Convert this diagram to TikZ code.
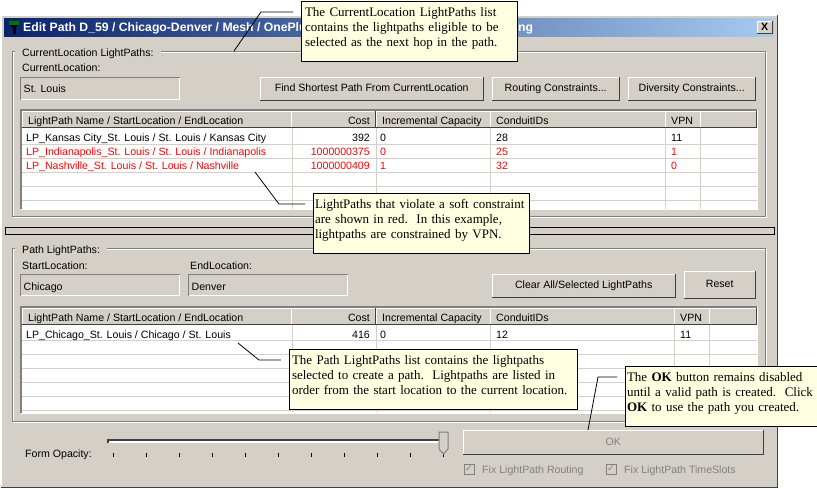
\documentclass[tikz,border=0pt]{standalone}
\usepackage{fontspec}
\setmainfont{Liberation Sans}
\newfontfamily\notefamily{Liberation Serif}
\newfontfamily\checkfamily{DejaVu Sans}
\usetikzlibrary{arrows.meta, positioning, calc}
\definecolor{winface}{HTML}{D4D0C8}
\definecolor{winshadow}{HTML}{808080}
\definecolor{windark}{HTML}{404040}
\definecolor{gridline}{HTML}{D4D0C8}
\definecolor{notefill}{HTML}{FFFFE1}
\definecolor{titledark}{HTML}{0A246A}
\definecolor{titlelight}{HTML}{A6CAF0}
\definecolor{softred}{HTML}{FF0000}
\newcommand{\uifont}{\fontsize{10.6}{13}\selectfont}
\newcommand{\notefont}{\notefamily\fontsize{13}{15}\selectfont}
%% raised and sunken edges round a named node
\newcommand{\raisededge}[1]{
  \draw[white, line width=1pt] (#1.south west) -- (#1.north west) -- (#1.north east);
  \draw[windark, line width=1.5pt] (#1.south west) -- (#1.south east) -- (#1.north east);
}
\newcommand{\sunkenedge}[1]{
  \draw[white, line width=1pt] (#1.south west) -- (#1.south east) -- (#1.north east);
  \draw[winshadow, line width=1.2pt] (#1.south west) -- (#1.north west) -- (#1.north east);
}
\tikzset{
  x=1pt, y=-1pt,
  uitext/.style   = {font=\uifont, inner sep=0pt, anchor=west, text=black, text height=8pt, text depth=2pt},
  redtext/.style  = {uitext, text=softred},
  costtext/.style = {uitext, anchor=east},
  btnbox/.style   = {fill=winface, font=\uifont, inner sep=0pt, anchor=north west, align=center, text height=8pt, text depth=2pt},
  fieldbox/.style = {fill=winface, font=\uifont, inner sep=0pt, anchor=north west},
  listbox/.style  = {fill=white, inner sep=0pt, anchor=north west},
  headbox/.style  = {btnbox, minimum height=16pt},
  groupbox/.style = {inner sep=0pt, anchor=north west},
  notebox/.style  = {draw=black, line width=1pt, fill=notefill, font=\notefont, inner sep=0pt,
                     anchor=north west, align=left, text depth=39pt},
  checkbox/.style = {fill=winface, draw=winshadow, line width=1pt, inner sep=0pt, anchor=north west,
                     minimum size=10pt, font=\checkfamily\fontsize{9}{9}\selectfont, text=winshadow},
  leadline/.style = {draw=black, line width=0.8pt},
  etchdark/.style = {draw=winshadow, line width=1pt},
  etchlight/.style= {draw=white, line width=1pt},
}

\begin{document}
\begin{tikzpicture}

\useasboundingbox (0,0) rectangle (817,488);
\fill[white] (0,0) rectangle (817,488);

%% ---- Window frame ----
\node[fill=winface, inner sep=0pt, anchor=north west, minimum width=776pt, minimum height=472pt] (window) at (1,15) {};
\draw[white, line width=1pt] (window.south west) -- (window.north west) -- (window.north east);
\draw[windark, line width=1.5pt] (window.south west) -- (window.south east) -- (window.north east);

%% ---- Title bar ----
\node[left color=titledark, right color=titlelight, inner sep=0pt, anchor=north west,
      minimum width=770pt, minimum height=18pt] (titlebar) at (4,18) {};
\node[uitext, text=white, font=\fontsize{12.2}{14}\bfseries\selectfont] (titletext) at (23,28) {Edit Path D\_59 / Chicago-Denver / Mesh / OnePlu};
\node[uitext, text=white, font=\fontsize{12.2}{14}\bfseries\selectfont] (titleend) at (518,28) {ng};
\fill[black] (12.5,26) rectangle (15.5,34);
\fill[black] (10,25) -- (18,25) -- (15.5,28) -- (12.5,28) -- cycle;
\fill[green!45!black] (9,21) rectangle (19,25);
\node[btnbox, minimum width=15pt, minimum height=12pt, font=\bfseries\uifont] (closebtn) at (757,21) {X};
\raisededge{closebtn}

%% ---- CurrentLocation group ----
\node[groupbox, minimum width=753pt, minimum height=165pt] (currentgroup) at (12,51) {};
\draw[etchlight] ([shift={(1,1)}]currentgroup.north west) -- ([shift={(1,1)}]currentgroup.south west) -- ([shift={(1,1)}]currentgroup.south east) -- ([shift={(1,1)}]currentgroup.north east) -- cycle;
\draw[etchdark] (currentgroup.north west) rectangle (currentgroup.south east);
\node[uitext, fill=winface, inner xsep=7pt] (currenttitle) at (15,53) {CurrentLocation LightPaths:};
\node[uitext] (currentlabel) at (22,68.5) {CurrentLocation:};
\node[fieldbox, minimum width=159pt, minimum height=22pt] (currentfield) at (20.5,77.5) {};
\sunkenedge{currentfield}
\node[uitext] (currentvalue) at (23.5,89.5) {St. Louis};
\node[btnbox, minimum width=223pt, minimum height=23pt] (shortestbtn) at (260,77) {Find Shortest Path From CurrentLocation};
\node[btnbox, minimum width=127pt, minimum height=23pt] (routingbtn) at (492,77) {Routing Constraints...};
\node[btnbox, minimum width=127pt, minimum height=23pt] (diversitybtn) at (628,77) {Diversity Constraints...};
\raisededge{shortestbtn}
\raisededge{routingbtn}
\raisededge{diversitybtn}

%% ---- CurrentLocation list ----
\node[listbox, minimum width=736pt, minimum height=99pt] (currentlist) at (21,110) {};
\sunkenedge{currentlist}
\foreach \yrow in {144,158,172,186,200}
  \draw[gridline, line width=1pt] (22,\yrow) -- (757,\yrow);
\foreach \xcol in {292,376,490.5,665.5,700}
  \draw[gridline, line width=1pt] (\xcol,127) -- (\xcol,209);
\node[headbox, minimum width=269pt] (currenthead1) at (22,111) {};
\node[headbox, minimum width=84pt] (currenthead2) at (291,111) {};
\node[headbox, minimum width=114pt] (currenthead3) at (376,111) {};
\node[headbox, minimum width=175pt] (currenthead4) at (490,111) {};
\node[headbox, minimum width=35pt] (currenthead5) at (665,111) {};
\node[headbox, minimum width=56pt] (currenthead6) at (700,111) {};
\foreach \headname in {currenthead1,currenthead2,currenthead3,currenthead4,currenthead5,currenthead6}
  {\raisededge{\headname}}
\node[uitext] (currentcol1) at (28,121) {LightPath Name / StartLocation / EndLocation};
\node[costtext] (currentcol2) at (370,121) {Cost};
\node[uitext] (currentcol3) at (382,121) {Incremental Capacity};
\node[uitext] (currentcol4) at (496,121) {ConduitIDs};
\node[uitext] (currentcol5) at (671,121) {VPN};
%% rows
\node[uitext] (kansasname) at (26,138) {LP\_Kansas City\_St. Louis / St. Louis / Kansas City};
\node[costtext] (kansascost) at (370,138) {392};
\node[uitext] (kansascap) at (380,138) {0};
\node[uitext] (kansasids) at (496,138) {28};
\node[uitext] (kansasvpn) at (671,138) {11};
\node[redtext] (indyname) at (26,152) {LP\_Indianapolis\_St. Louis / St. Louis / Indianapolis};
\node[costtext, text=softred] (indycost) at (370,152) {1000000375};
\node[redtext] (indycap) at (380,152) {0};
\node[redtext] (indyids) at (496,152) {25};
\node[redtext] (indyvpn) at (671,152) {1};
\node[redtext] (nashname) at (26,166) {LP\_Nashville\_St. Louis / St. Louis / Nashville};
\node[costtext, text=softred] (nashcost) at (370,166) {1000000409};
\node[redtext] (nashcap) at (380,166) {1};
\node[redtext] (nashids) at (496,166) {32};
\node[redtext] (nashvpn) at (671,166) {0};

%% ---- Splitter ----
\node[draw=black, line width=0.8pt, fill=winface, inner sep=0pt, anchor=north west,
      minimum width=769pt, minimum height=7pt] (splitter) at (4.5,226.5) {};

%% ---- Path group ----
\node[groupbox, minimum width=753pt, minimum height=173pt] (pathgroup) at (12,248) {};
\draw[etchlight] ([shift={(1,1)}]pathgroup.north west) -- ([shift={(1,1)}]pathgroup.south west) -- ([shift={(1,1)}]pathgroup.south east) -- ([shift={(1,1)}]pathgroup.north east) -- cycle;
\draw[etchdark] (pathgroup.north west) rectangle (pathgroup.south east);
\node[uitext, fill=winface, inner xsep=7pt] (pathtitle) at (15,250) {Path LightPaths:};
\node[uitext] (startlabel) at (22,266) {StartLocation:};
\node[uitext] (endlabel) at (190,266) {EndLocation:};
\node[fieldbox, minimum width=159pt, minimum height=21pt] (startfield) at (20.5,274.5) {};
\node[fieldbox, minimum width=159pt, minimum height=21pt] (endfield) at (188.5,274.5) {};
\sunkenedge{startfield}
\sunkenedge{endfield}
\node[uitext] (startvalue) at (23.5,287) {Chicago};
\node[uitext] (endvalue) at (191.5,287) {Denver};
\node[btnbox, minimum width=183pt, minimum height=23pt] (clearbtn) at (492,274) {Clear All/Selected LightPaths};
\node[btnbox, minimum width=71pt, minimum height=27pt] (resetbtn) at (684,271) {Reset};
\raisededge{clearbtn}
\raisededge{resetbtn}

%% ---- Path list ----
\node[listbox, minimum width=736pt, minimum height=106pt] (pathlist) at (21,307) {};
\sunkenedge{pathlist}
\foreach \yrow in {340,354,368,382,396,410}
  \draw[gridline, line width=1pt] (22,\yrow) -- (757,\yrow);
\foreach \xcol in {292,376,490.5,674.5,709}
  \draw[gridline, line width=1pt] (\xcol,324) -- (\xcol,412);
\node[headbox, minimum width=269pt] (pathhead1) at (22,308) {};
\node[headbox, minimum width=84pt] (pathhead2) at (291,308) {};
\node[headbox, minimum width=114pt] (pathhead3) at (376,308) {};
\node[headbox, minimum width=184pt] (pathhead4) at (490,308) {};
\node[headbox, minimum width=35pt] (pathhead5) at (674,308) {};
\node[headbox, minimum width=47pt] (pathhead6) at (709,308) {};
\foreach \headname in {pathhead1,pathhead2,pathhead3,pathhead4,pathhead5,pathhead6}
  {\raisededge{\headname}}
\node[uitext] (pathcol1) at (28,318) {LightPath Name / StartLocation / EndLocation};
\node[costtext] (pathcol2) at (370,318) {Cost};
\node[uitext] (pathcol3) at (382,318) {Incremental Capacity};
\node[uitext] (pathcol4) at (496,318) {ConduitIDs};
\node[uitext] (pathcol5) at (680,318) {VPN};
\node[uitext] (chicagoname) at (26,335) {LP\_Chicago\_St. Louis / Chicago / St. Louis};
\node[costtext] (chicagocost) at (370,335) {416};
\node[uitext] (chicagocap) at (380,335) {0};
\node[uitext] (chicagoids) at (496,335) {12};
\node[uitext] (chicagovpn) at (680,335) {11};

%% ---- Bottom controls ----
\node[uitext] (opacitylabel) at (25,454) {Form Opacity:};
\node[fill=white, inner sep=0pt, anchor=north west, minimum width=336pt, minimum height=3pt] (slidertrack) at (108,440) {};
\draw[windark, line width=1.5pt] (slidertrack.south west) -- (slidertrack.north west) -- (slidertrack.north east);
\foreach \xtick in {113,146,179,212,245,278,311,344,377,410,443}
  \draw[black, line width=1pt] (\xtick,453) -- (\xtick,457);
\filldraw[fill=winface, draw=winshadow, line width=1pt] (439,432) -- (448,432) -- (448,449) -- (443.5,454) -- (439,449) -- cycle;
\node[btnbox, minimum width=300pt, minimum height=24pt, text=winshadow] (okbtn) at (463,430) {OK};
\raisededge{okbtn}
\node[checkbox] (routingcheck) at (463.5,463.5) {✓};
\node[checkbox] (slotcheck) at (605.5,463.5) {✓};
\node[uitext, text=winshadow] (routinglabel) at (482,470) {Fix LightPath Routing};
\node[uitext, text=winshadow] (slotlabel) at (624,470) {Fix LightPath TimeSlots};

%% ---- Notes ----
\node[notebox, minimum width=216pt, minimum height=60pt, text width=208pt] (currentnote) at (300.5,0.5) {%
  The CurrentLocation LightPaths list\\contains the lightpaths eligible to be\\selected as the next hop in the path.};
\node[notebox, minimum width=216pt, minimum height=60pt, text width=212pt] (softnote) at (312.5,192.5) {%
  LightPaths that violate a soft constraint\\are shown in red.\ \ In this example,\\lightpaths are constrained by VPN.};
\node[notebox, minimum width=288pt, minimum height=60pt, text width=282pt] (pathnote) at (288.5,348.5) {%
  The Path LightPaths list contains the lightpaths\\selected to create a path.\ \ Lightpaths are listed in\\order from the start location to the current location.};
\node[notebox, minimum width=192pt, minimum height=60pt, text width=188pt] (oknote) at (624.5,365.5) {%
  The \textbf{OK} button remains disabled\\until a valid path is created.\ \ Click\\\textbf{OK} to use the path you created.};

%% ---- Leader lines ----
\coordinate (currenttip) at (234,51);
\coordinate (currentbend) at (261,12);
\coordinate (currentend) at (293,12);
\draw[leadline] (currenttip) -- (currentbend) -- (currentend);
\coordinate (softtip) at (255,172);
\coordinate (softbend) at (279,204);
\coordinate (softend) at (305,204);
\draw[leadline] (softtip) -- (softbend) -- (softend);
\coordinate (pathtip) at (238,343);
\coordinate (pathbend) at (259,360);
\coordinate (pathend) at (281,360);
\draw[leadline] (pathtip) -- (pathbend) -- (pathend);
\coordinate (oktip) at (588,430);
\coordinate (okbend) at (598,377);
\coordinate (okend) at (617,377);
\draw[leadline] (oktip) -- (okbend) -- (okend);

\end{tikzpicture}
\end{document}
